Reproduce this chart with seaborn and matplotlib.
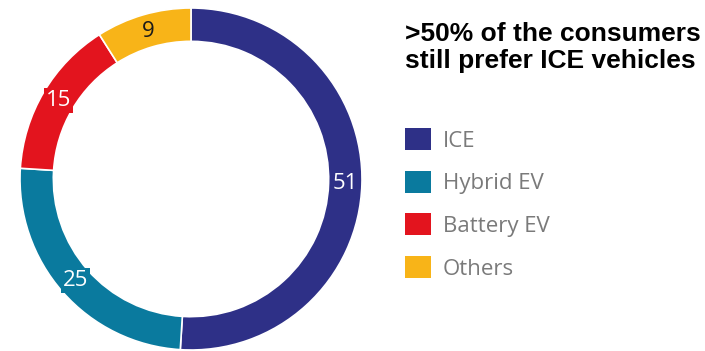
import matplotlib
matplotlib.use("Agg")
import matplotlib.pyplot as plt
import seaborn as sns
import numpy as np
from matplotlib.patches import Patch

categories = ["ICE", "Hybrid EV", "Battery EV", "Others"]
values = [51, 25, 15, 9]
colors = ["#2E3087", "#0A7A9E", "#E3141E", "#F8B418"]
label_colors = ["white", "white", "white", "#1a1a1a"]
title = ">50% of the consumers\nstill prefer ICE vehicles"

sns.set_theme(style="white")
plt.rcParams['font.family'] = ['Open Sans', 'DejaVu Sans']

fig = plt.figure(figsize=(7.05, 3.51), dpi=100)
ax = fig.add_axes([20 / 705, 1 / 351, 342 / 705, 342 / 351])

wedges, _ = ax.pie(values, colors=colors, startangle=90, counterclock=False,
                   radius=1.0, wedgeprops=dict(width=0.195, edgecolor="white", linewidth=1.2))

for w, v, c, lc in zip(wedges, values, colors, label_colors):
    ang = np.deg2rad((w.theta1 + w.theta2) / 2)
    r = 0.9
    ax.text(r * np.cos(ang), r * np.sin(ang), str(v), ha="center", va="center",
            fontsize=16, color=lc,
            bbox=dict(boxstyle="square,pad=0.1", fc=c, ec="none"))

ax.set_xlim(-1, 1)
ax.set_ylim(-1, 1)
ax.set_aspect("equal")
ax.axis("off")

fig.text(405 / 705, 1 - 22 / 351, title, ha="left", va="top", fontsize=19,
         fontweight="bold", family=["Liberation Sans", "DejaVu Sans"], color="black",
         linespacing=1.15)

handles = [Patch(facecolor=c, edgecolor="none") for c in colors]
leg = fig.legend(handles, categories, loc="upper left", bbox_to_anchor=(385 / 705, 1 - 108 / 351),
                 frameon=False, fontsize=16, handlelength=1.15, handleheight=1.15,
                 labelspacing=0.86, handletextpad=0.55, labelcolor="#7a7a7a")

fig.savefig("out.png", dpi=100)
